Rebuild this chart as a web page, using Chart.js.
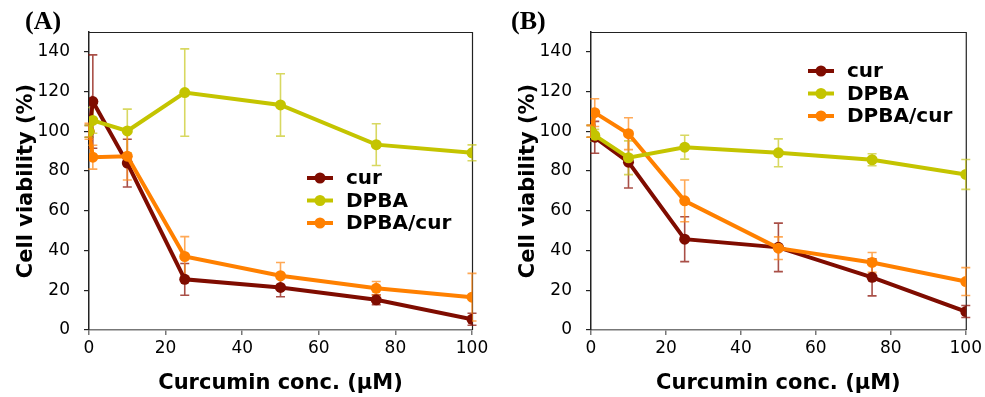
<!DOCTYPE html>
<html>
<head>
<meta charset="utf-8">
<script src="https://cdn.jsdelivr.net/npm/chart.js@4.4.1/dist/chart.umd.min.js"></script>
<style>
body { margin: 0; background: #fff; width: 985px; height: 397px; position: relative; overflow: hidden; }
canvas { position: absolute; top: 0; }
.lettre { position: absolute; top: 6px; font: bold 26px "Liberation Serif", "DejaVu Serif", serif; color: #000; }
</style>
</head>
<body>
<canvas id="grA" width="492" height="397" style="left:0"></canvas>
<canvas id="grB" width="483" height="397" style="left:502px"></canvas>
<div class="lettre" style="left:25px">(A)</div>
<div class="lettre" style="left:511px">(B)</div>
<script>
// Concentrations de curcumine (µM), communes aux deux panneaux
const concentrations = [0, 1, 10, 25, 50, 75, 100];

// Panneau (A) : viabilité (%) et écarts
const curA = [100, 115, 84, 25.5, 21.4, 15.2, 5.4];
const curA_err = [3, 23.5, 12, 8, 4.7, 2.5, 3];
const dpbaA = [100, 105.5, 100.2, 119.5, 113.3, 93.3, 89.2];
const dpbaA_err = [3, 6.5, 11, 22, 15.7, 10.5, 4];
const dpbaCurA = [100, 87, 87.5, 37, 27.3, 21, 16.5];
const dpbaCurA_err = [4, 6, 12, 10, 6.7, 3.4, 12];

// Panneau (B)
const curB = [100, 97, 84.5, 45.7, 41.6, 26.5, 9.3];
const curB_err = [3, 8, 13, 11.3, 12.2, 9.3, 3];
const dpbaB = [100, 98, 86.7, 92, 89.2, 85.7, 78.3];
const dpbaB_err = [3, 3, 8.5, 6, 7, 3, 7.5];
const dpbaCurB = [100, 109.4, 98.8, 65, 41.2, 34, 24.4];
const dpbaCurB_err = [3, 7, 8, 10.5, 5.7, 5, 7];

// Graduations de l'axe Y
const graduationsY = [0, 20, 40, 60, 80, 100, 120, 140];

// Couleurs des séries (trait, puis barres d'erreur plus claires)
const couleurCur = '#7f0c00';
const couleurDpba = '#c4c400';
const couleurDpbaCur = '#ff8000';
const erreurCur = 'rgba(140,20,10,0.75)';
const erreurDpba = 'rgba(200,200,30,0.7)';
const erreurDpbaCur = 'rgba(255,140,30,0.75)';

// Construit un dataset Chart.js à partir des tableaux
function serie(label, valeurs, erreurs, couleur, couleurErr, ordre) {
    return {
        label: label,
        data: concentrations.map((c, i) => ({x: c, y: valeurs[i]})),
        erreurs: erreurs,
        couleurErreur: couleurErr,
        borderColor: couleur,
        backgroundColor: couleur,
        pointBackgroundColor: couleur,
        pointBorderWidth: 0,
        pointRadius: 5.5,
        borderWidth: 4,
        tension: 0,
        order: ordre
    };
}

// Dessine les barres d'erreur avec les échelles du graphique
const barresErreur = {
    id: 'barresErreur',
    beforeDatasetsDraw(chart) {
        const ctx = chart.ctx;
        const sx = chart.scales.x, sy = chart.scales.y;
        chart.data.datasets.forEach(ds => {
            ctx.save();
            ctx.strokeStyle = ds.couleurErreur;
            ctx.lineWidth = 1.6;
            ds.data.forEach((p, k) => {
                const e = ds.erreurs[k];
                const px = sx.getPixelForValue(p.x);
                const haut = sy.getPixelForValue(p.y + e);
                const bas = sy.getPixelForValue(p.y - e);
                ctx.beginPath();
                ctx.moveTo(px, haut); ctx.lineTo(px, bas);
                ctx.moveTo(px - 4.5, haut); ctx.lineTo(px + 4.5, haut);
                ctx.moveTo(px - 4.5, bas); ctx.lineTo(px + 4.5, bas);
                ctx.stroke();
            });
            ctx.restore();
        });
    }
};

// Cadre haut et droite de la zone de tracé
const cadre = {
    id: 'cadre',
    beforeDatasetsDraw(chart) {
        const {left, right, top, bottom} = chart.chartArea;
        const ctx = chart.ctx;
        ctx.save();
        ctx.strokeStyle = '#222';
        ctx.lineWidth = 1.2;
        ctx.beginPath();
        ctx.moveTo(left, top + 0.5); ctx.lineTo(right + 0.5, top + 0.5); ctx.lineTo(right + 0.5, bottom);
        ctx.stroke();
        ctx.restore();
    }
};

// Légende dessinée dans la zone de tracé
const legendePerso = {
    id: 'legendePerso',
    afterDraw(chart, args, opts) {
        const ctx = chart.ctx;
        const x0 = chart.chartArea.left + opts.dx;
        const y0 = chart.chartArea.top + opts.dy;
        ctx.save();
        ctx.font = 'bold 20px "DejaVu Sans"';
        ctx.textBaseline = 'middle';
        ctx.fillStyle = '#000';
        chart.data.datasets.forEach((ds, i) => {
            const y = y0 + i * 22.5;
            ctx.strokeStyle = ds.borderColor;
            ctx.lineWidth = 4;
            ctx.beginPath();
            ctx.moveTo(x0, y); ctx.lineTo(x0 + 26, y);
            ctx.stroke();
            ctx.fillStyle = ds.borderColor;
            ctx.beginPath();
            ctx.arc(x0 + 13, y, 5.5, 0, Math.PI * 2);
            ctx.fill();
            ctx.fillStyle = '#000';
            ctx.fillText(ds.label, x0 + 39, y + 1);
        });
        ctx.restore();
    }
};

function creerGraphique(id, datasets, legende, margeDroite) {
    return new Chart(document.getElementById(id), {
        type: 'line',
        data: {datasets: datasets},
        options: {
            responsive: false,
            animation: false,
            devicePixelRatio: 1,
            layout: {padding: {left: 0, top: 32, right: margeDroite, bottom: 0}},
            plugins: {
                legend: {display: false},
                tooltip: {enabled: false},
                legendePerso: legende
            },
            scales: {
                x: {
                    type: 'linear',
                    min: 0,
                    max: 100,
                    ticks: {stepSize: 20, color: '#000', font: {family: 'DejaVu Sans', size: 17}, padding: 3},
                    grid: {drawOnChartArea: false, tickLength: 5, color: '#777', lineWidth: 1.5},
                    border: {color: '#777', width: 1.5},
                    title: {
                        display: true, text: 'Curcumin conc. (μM)', color: '#000',
                        font: {family: 'DejaVu Sans', size: 21, weight: 'bold'},
                        padding: {top: 0, bottom: 1}
                    },
                    afterFit(scale) { scale.height = 67; }
                },
                y: {
                    min: 0,
                    max: 150,
                    ticks: {stepSize: 20, color: '#000', font: {family: 'DejaVu Sans', size: 17}, padding: 14},
                    afterBuildTicks(scale) { scale.ticks = graduationsY.map(v => ({value: v})); },
                    grid: {drawOnChartArea: false, tickLength: 5, color: '#222', lineWidth: 1.2},
                    border: {color: '#222', width: 1.5},
                    title: {
                        display: true, text: 'Cell viability (%)', color: '#000',
                        font: {family: 'DejaVu Sans', size: 21, weight: 'bold'},
                        padding: {top: 14, bottom: 0}
                    },
                    afterFit(scale) { scale.width = 89; }
                }
            }
        },
        plugins: [cadre, barresErreur, legendePerso]
    });
}

creerGraphique('grA', [
    serie('cur', curA, curA_err, couleurCur, erreurCur, 2),
    serie('DPBA', dpbaA, dpbaA_err, couleurDpba, erreurDpba, 0),
    serie('DPBA/cur', dpbaCurA, dpbaCurA_err, couleurDpbaCur, erreurDpbaCur, 1)
], {dx: 218, dy: 146}, 20);

creerGraphique('grB', [
    serie('cur', curB, curB_err, couleurCur, erreurCur, 2),
    serie('DPBA', dpbaB, dpbaB_err, couleurDpba, erreurDpba, 0),
    serie('DPBA/cur', dpbaCurB, dpbaCurB_err, couleurDpbaCur, erreurDpbaCur, 1)
], {dx: 217, dy: 39}, 10);
</script>
</body>
</html>
